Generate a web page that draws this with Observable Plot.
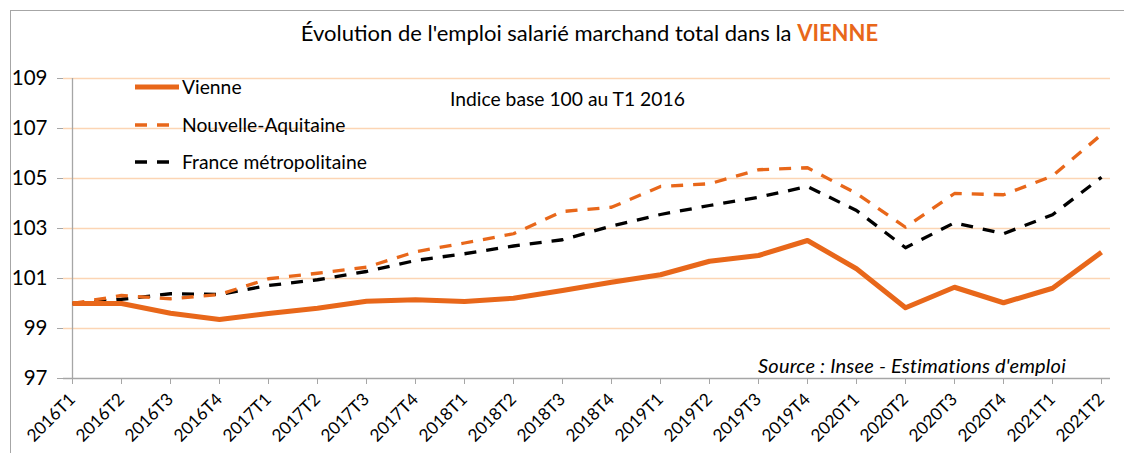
<!DOCTYPE html>
<html><head><meta charset="utf-8">
<script src="https://cdn.jsdelivr.net/npm/d3@7"></script>
<script src="https://cdn.jsdelivr.net/npm/@observablehq/plot@0.6"></script>
<style>
body{margin:0;background:#fff;font-family:Lato,"Open Sans",sans-serif;color:#000;}
#wrap{position:relative;width:1124px;height:453px;overflow:hidden;background:#fff;}
#frame{position:absolute;left:9.5px;top:10px;width:1140px;height:470px;border:1.4px solid #A6A6A6;box-sizing:border-box;}
#title{position:absolute;top:19px;left:0;width:1179px;text-align:center;font-size:22px;line-height:28px;white-space:nowrap;}
#title b{color:#E8671A;}
#chart{position:absolute;left:0;top:0;}
.ann{position:absolute;white-space:nowrap;font-size:19.3px;line-height:24px;}
.leg{position:absolute;left:135px;white-space:nowrap;font-size:19.3px;line-height:24px;display:flex;align-items:center;}
.leg svg{margin-right:3px;}
</style></head><body>
<div id="wrap">
  <div id="chart"></div>
  <div id="frame"></div>
  <div id="title">Évolution de l'emploi salarié marchand total dans la <b>VIENNE</b></div>
  <div class="leg" style="top:75px"><svg width="44" height="10"><line x1="0" x2="44" y1="5" y2="5" stroke="#E8671A" stroke-width="5"/></svg>Vienne</div>
  <div class="leg" style="top:113px"><svg width="44" height="10"><line x1="0" x2="44" y1="5" y2="5" stroke="#E8671A" stroke-width="3.3" stroke-dasharray="12,10"/></svg>Nouvelle-Aquitaine</div>
  <div class="leg" style="top:150px"><svg width="44" height="10"><line x1="0" x2="44" y1="5" y2="5" stroke="#000" stroke-width="3.3" stroke-dasharray="12,10"/></svg>France métropolitaine</div>
  <div class="ann" style="left:450px;top:87px;">Indice base 100 au T1 2016</div>
  <div class="ann" style="left:758px;top:353px;font-style:italic;font-size:20px;letter-spacing:0.2px;">Source : Insee - Estimations d'emploi</div>
</div>
<script>
const quarters = ["2016T1","2016T2","2016T3","2016T4","2017T1","2017T2","2017T3","2017T4","2018T1","2018T2","2018T3","2018T4","2019T1","2019T2","2019T3","2019T4","2020T1","2020T2","2020T3","2020T4","2021T1","2021T2"];
const vienne = [100.0,100.0,99.61,99.36,99.6,99.81,100.09,100.15,100.08,100.21,100.52,100.85,101.15,101.69,101.92,102.52,101.39,99.83,100.65,100.03,100.61,102.05];
const nouvelleAquitaine = [100.0,100.32,100.19,100.36,100.99,101.21,101.45,102.07,102.42,102.79,103.68,103.85,104.68,104.79,105.35,105.43,104.4,103.05,104.4,104.35,105.1,106.76];
const france = [100.0,100.17,100.39,100.36,100.72,100.95,101.28,101.72,101.99,102.3,102.55,103.1,103.56,103.92,104.25,104.68,103.72,102.23,103.23,102.79,103.55,105.05];
const yTicks = [97,99,101,103,105,107,109];

const orange = "#E8671A";
const series = [
  {values: france, stroke: "#000", width: 3.3, dash: "12,10"},
  {values: nouvelleAquitaine, stroke: orange, width: 3.3, dash: "12,10"},
  {values: vienne, stroke: orange, width: 5, dash: null}
];

const chart = Plot.plot({
  width: 1124, height: 453,
  marginLeft: 63, marginRight: 14, marginTop: 78, marginBottom: 75,
  style: {fontFamily: "Lato, 'Open Sans', sans-serif", background: "transparent", color: "#000", overflow: "visible"},
  x: {type: "point", domain: quarters, padding: 0},
  y: {domain: [97, 109]},
  marks: [
    Plot.gridY(yTicks.filter(d => d > 97), {stroke: "#FCD5B4", strokeOpacity: 1, strokeWidth: 1.3}),
    Plot.ruleX([quarters[0]], {stroke: "#A6A6A6", strokeWidth: 1.3}),
    Plot.ruleY([97], {stroke: "#A6A6A6", strokeWidth: 1.3}),
    Plot.axisY(yTicks, {tickSize: 6, tickPadding: 10, fontSize: 20.5, stroke: "#A6A6A6", fill: "#000", label: null}),
    Plot.axisX(quarters, {tickSize: 6, tickPadding: 12, tickRotate: -45, fontSize: 17.2, stroke: "#A6A6A6", fill: "#000", label: null}),
    ...series.map(s => Plot.line(quarters, {
      x: d => d, y: (d, i) => s.values[i],
      stroke: s.stroke, strokeWidth: s.width, strokeDasharray: s.dash,
      strokeLinejoin: "round", strokeLinecap: "butt"
    }))
  ]
});
document.getElementById("chart").appendChild(chart);
</script>
</body></html>
